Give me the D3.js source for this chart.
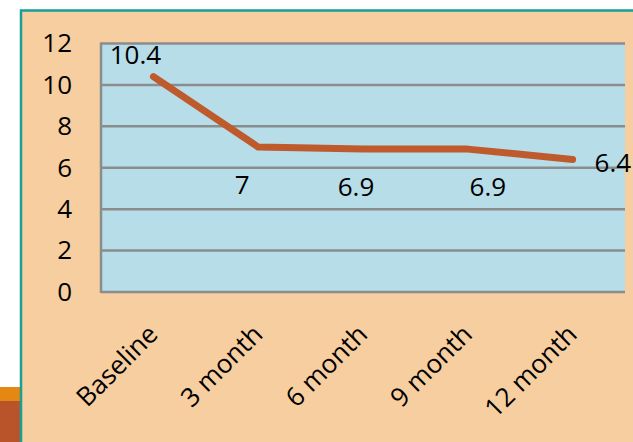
<!DOCTYPE html>
<html><head><meta charset="utf-8">
<script src="https://cdn.jsdelivr.net/npm/d3@7"></script>
<style>html,body{margin:0;padding:0;background:#fff;overflow:hidden}</style>
</head><body>
<script>
const categories = ["Baseline", "3 month", "6 month", "9 month", "12 month"];
const values = [10.4, 7, 6.9, 6.9, 6.4];
const valueLabels = ["10.4", "7", "6.9", "6.9", "6.4"];
const yTicks = [0, 2, 4, 6, 8, 10, 12];
const labelPlacement = ["above", "below", "below", "below", "right"];

const W = 633, H = 442;
const font = "'Open Sans', 'Noto Sans', sans-serif";
const svg = d3.select("body").append("svg").attr("width", W).attr("height", H);

// decoration bottom-left
svg.append("rect").attr("x", 0).attr("y", 387).attr("width", 21).attr("height", 14).attr("fill", "#E58713");
svg.append("rect").attr("x", 0).attr("y", 401).attr("width", 21).attr("height", 41).attr("fill", "#B9532A");

// chart frame
svg.append("rect").attr("x", 21).attr("y", 10.5).attr("width", W).attr("height", H)
  .attr("fill", "#F6CE9F").attr("stroke", "#17A096").attr("stroke-width", 2.5);

const pLeft = 101, pRight = 625, pTop = 43.5, pBottom = 292;
const x = d3.scaleBand().domain(categories).range([pLeft, pRight]);
const y = d3.scaleLinear().domain([0, 12]).range([pBottom, pTop]);

svg.append("rect").attr("x", pLeft).attr("y", pTop).attr("width", pRight - pLeft).attr("height", pBottom - pTop)
  .attr("fill", "#B7DDE8");

// gridlines
svg.append("g").selectAll("line").data(yTicks).join("line")
  .attr("x1", pLeft).attr("x2", pRight)
  .attr("y1", d => y(d)).attr("y2", d => y(d))
  .attr("stroke", "#8A8C8E").attr("stroke-width", 2.5);
svg.append("line").attr("x1", pLeft).attr("x2", pLeft).attr("y1", pTop - 1).attr("y2", pBottom + 1)
  .attr("stroke", "#8A8C8E").attr("stroke-width", 2.5);

// y axis labels
const yAxis = d3.axisLeft(y).tickValues(yTicks).tickSize(0).tickPadding(29).tickFormat(d3.format("d"));
const ya = svg.append("g").attr("transform", `translate(${pLeft},0)`).call(yAxis);
ya.select(".domain").remove();
ya.selectAll("text").attr("font-family", font).attr("font-size", 26).attr("fill", "#000");

// x axis labels
const xAxis = d3.axisBottom(x).tickSize(0).tickPadding(0);
const xa = svg.append("g").attr("transform", `translate(0,${pBottom})`).call(xAxis);
xa.select(".domain").remove();
xa.selectAll("text")
  .attr("font-family", font).attr("font-size", 26).attr("fill", "#000")
  .attr("text-anchor", "end").attr("dy", 0).attr("y", 0)
  .attr("transform", "translate(6,44) rotate(-45)");

// line
const line = d3.line().x((d, i) => x(categories[i]) + x.bandwidth() / 2).y(d => y(d));
svg.append("path").datum(values).attr("d", line)
  .attr("fill", "none").attr("stroke", "#BE5A2B").attr("stroke-width", 7)
  .attr("stroke-linecap", "round").attr("stroke-linejoin", "round");

// data labels
const place = {
  above: {dx: -18, dy: -13, anchor: "middle"},
  below: {dx: 0, dy: 47, anchor: "middle"},
  right: {dx: 22, dy: 13, anchor: "start"}
};
const belowDx = [0, -16, -7, 20, 0];
svg.append("g").selectAll("text").data(values).join("text")
  .attr("x", (d, i) => x(categories[i]) + x.bandwidth() / 2 + place[labelPlacement[i]].dx + (labelPlacement[i] === "below" ? belowDx[i] : 0))
  .attr("y", (d, i) => y(d) + place[labelPlacement[i]].dy)
  .attr("text-anchor", (d, i) => place[labelPlacement[i]].anchor)
  .attr("font-family", font).attr("font-size", 26).attr("fill", "#000")
  .text((d, i) => valueLabels[i]);
</script>
</body></html>
